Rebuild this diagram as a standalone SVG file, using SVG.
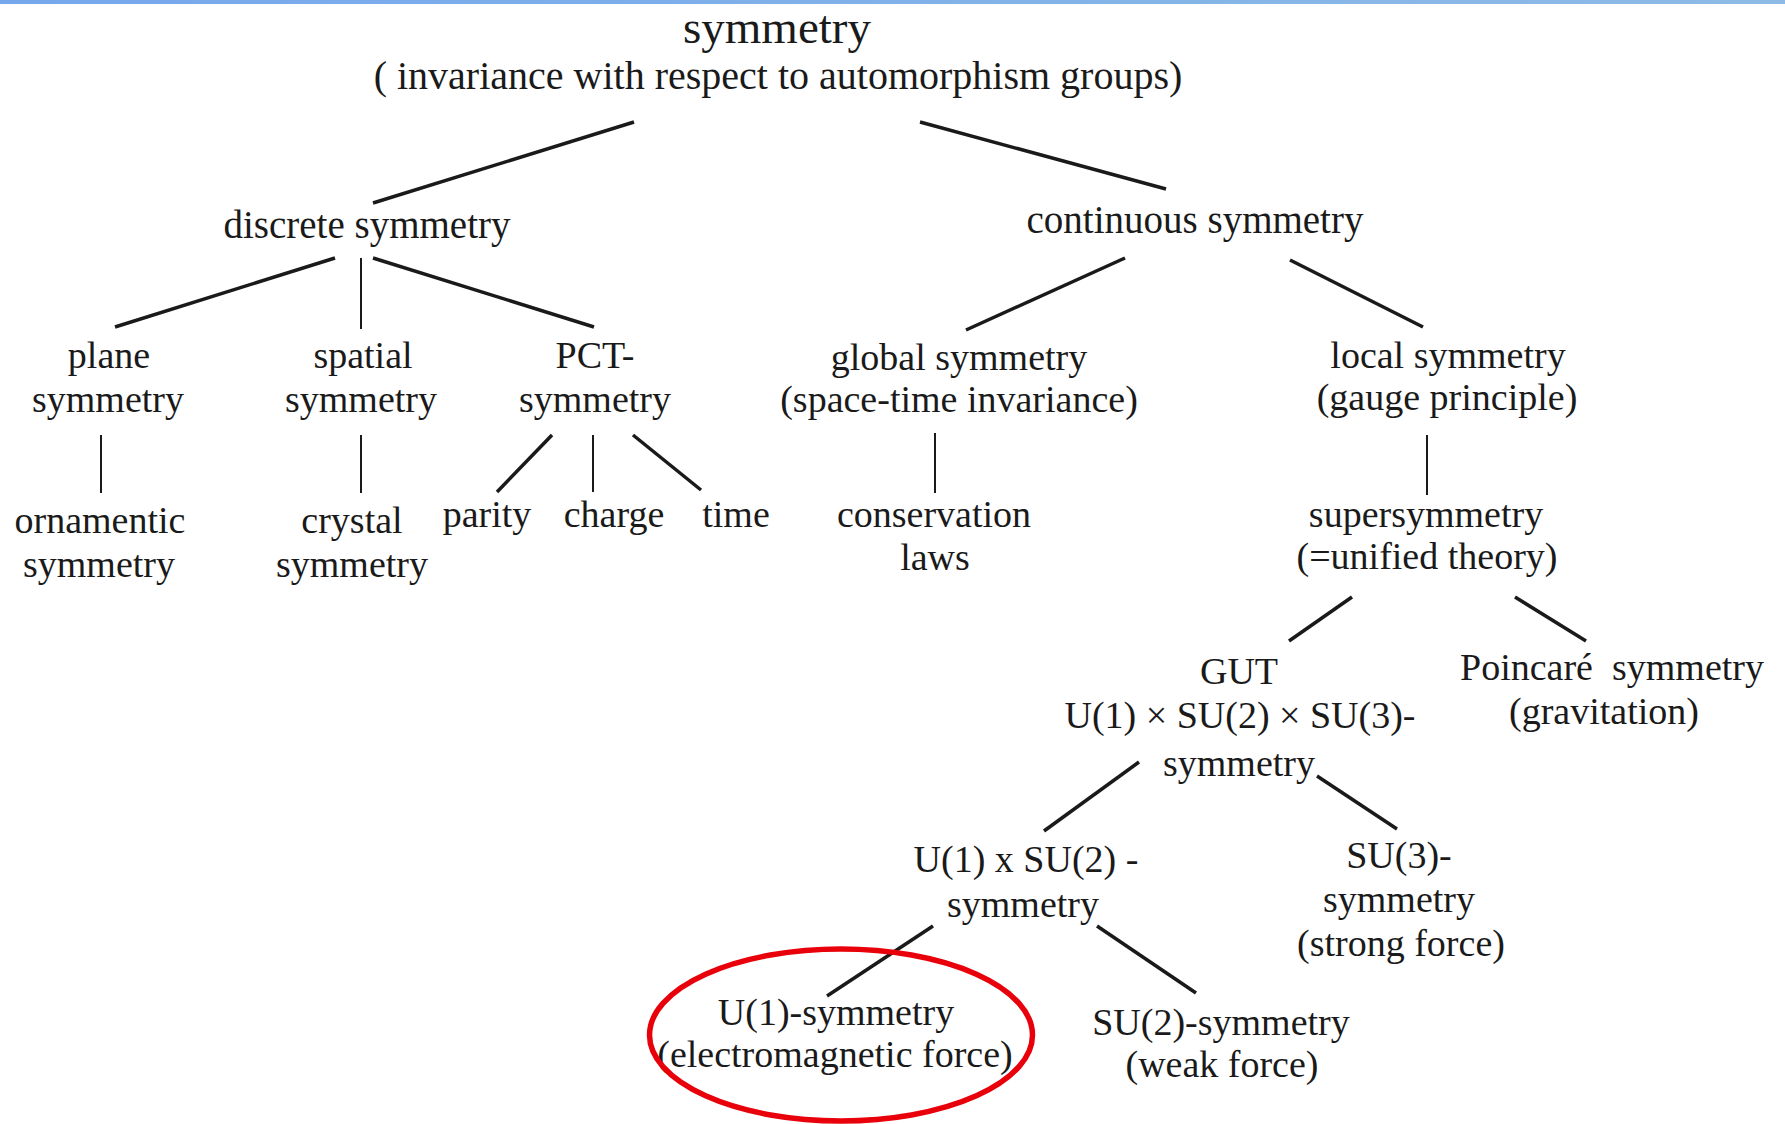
<svg xmlns="http://www.w3.org/2000/svg" width="1785" height="1124" viewBox="0 0 1785 1124">
<defs>
<linearGradient id="bar" x1="0" y1="0" x2="1" y2="0">
<stop offset="0" stop-color="#76a7ec"/>
<stop offset="1" stop-color="#8dbbe6"/>
</linearGradient>
<style>
text{font-family:"Liberation Serif","Times New Roman",serif;fill:#1a1a1a;text-anchor:middle;font-size:38px}
.title{font-size:47px}
.sub{font-size:40px}
.l2{font-size:39px}
.c{stroke:#1a1a1a;stroke-width:3.5;stroke-linecap:butt;fill:none}
.v{stroke:#1a1a1a;stroke-width:2;fill:none}
</style>
</defs>
<rect width="1785" height="1124" fill="#fff"/>
<rect x="0" y="0" width="1785" height="4" fill="url(#bar)"/>

<g id="connectors">
<line class="c" x1="634" y1="122" x2="373" y2="203"/>
<line class="c" x1="920" y1="122" x2="1166" y2="189"/>
<line class="c" x1="335" y1="258" x2="115" y2="327"/>
<line class="v" x1="361" y1="258" x2="361" y2="329"/>
<line class="c" x1="373" y1="258" x2="594" y2="327"/>
<line class="c" x1="1125" y1="258" x2="966" y2="330"/>
<line class="c" x1="1290" y1="260" x2="1423" y2="327"/>
<line class="v" x1="101" y1="435" x2="101" y2="493"/>
<line class="v" x1="361" y1="435" x2="361" y2="493"/>
<line class="c" x1="552" y1="435" x2="497" y2="492"/>
<line class="v" x1="593" y1="435" x2="593" y2="492"/>
<line class="c" x1="633" y1="435" x2="701" y2="490"/>
<line class="v" x1="935" y1="433" x2="935" y2="493"/>
<line class="v" x1="1427" y1="435" x2="1427" y2="495"/>
<line class="c" x1="1352" y1="597" x2="1289" y2="641"/>
<line class="c" x1="1515" y1="597" x2="1586" y2="641"/>
<line class="c" x1="1139" y1="762" x2="1044" y2="831"/>
<line class="c" x1="1317" y1="776" x2="1397" y2="829"/>
<line class="c" x1="933" y1="926" x2="827" y2="996"/>
<line class="c" x1="1097" y1="926" x2="1196" y2="993"/>
</g>

<g id="root">
<text class="title" x="777" y="43">symmetry</text>
<text class="sub" x="778" y="89">( invariance with respect to automorphism groups)</text>
</g>
<g id="discrete"><text class="l2" x="367" y="238">discrete symmetry</text></g>
<g id="continuous"><text class="l2" x="1195" y="233">continuous symmetry</text></g>

<g id="plane"><text x="109" y="368">plane</text><text x="108" y="412">symmetry</text></g>
<g id="spatial"><text x="363" y="368">spatial</text><text x="361" y="412">symmetry</text></g>
<g id="pct"><text x="595" y="368">PCT-</text><text x="595" y="412">symmetry</text></g>
<g id="global"><text x="959" y="370">global symmetry</text><text x="959" y="412">(space-time invariance)</text></g>
<g id="local"><text x="1448" y="368">local symmetry</text><text x="1447" y="410">(gauge principle)</text></g>

<g id="ornamentic"><text x="100" y="533">ornamentic</text><text x="99" y="577">symmetry</text></g>
<g id="crystal"><text x="352" y="533">crystal</text><text x="352" y="577">symmetry</text></g>
<g id="parity"><text x="487" y="527">parity</text></g>
<g id="charge"><text x="614" y="527">charge</text></g>
<g id="time"><text x="736" y="527">time</text></g>
<g id="conservation"><text x="934" y="527">conservation</text><text x="935" y="570">laws</text></g>
<g id="supersymmetry"><text x="1426" y="527">supersymmetry</text><text x="1427" y="569">(=unified theory)</text></g>

<g id="gut"><text x="1239" y="684">GUT</text><text x="1240" y="728">U(1) × SU(2) × SU(3)-</text><text x="1239" y="776">symmetry</text></g>
<g id="poincare"><text x="1612" y="680" xml:space="preserve">Poincaré  symmetry</text><text x="1604" y="724">(gravitation)</text></g>

<g id="u1su2"><text x="1026" y="872">U(1) x SU(2) -</text><text x="1023" y="917">symmetry</text></g>
<g id="su3"><text x="1399" y="868">SU(3)-</text><text x="1399" y="912">symmetry</text><text x="1401" y="956">(strong force)</text></g>

<g id="u1"><text x="836" y="1025">U(1)-symmetry</text><text x="835" y="1067">(electromagnetic force)</text></g>
<g id="su2"><text x="1221" y="1035">SU(2)-symmetry</text><text x="1222" y="1077">(weak force)</text></g>

<g id="highlight"><ellipse cx="841" cy="1035" rx="191.5" ry="86" fill="none" stroke="#e8000a" stroke-width="5.5"/></g>
</svg>
